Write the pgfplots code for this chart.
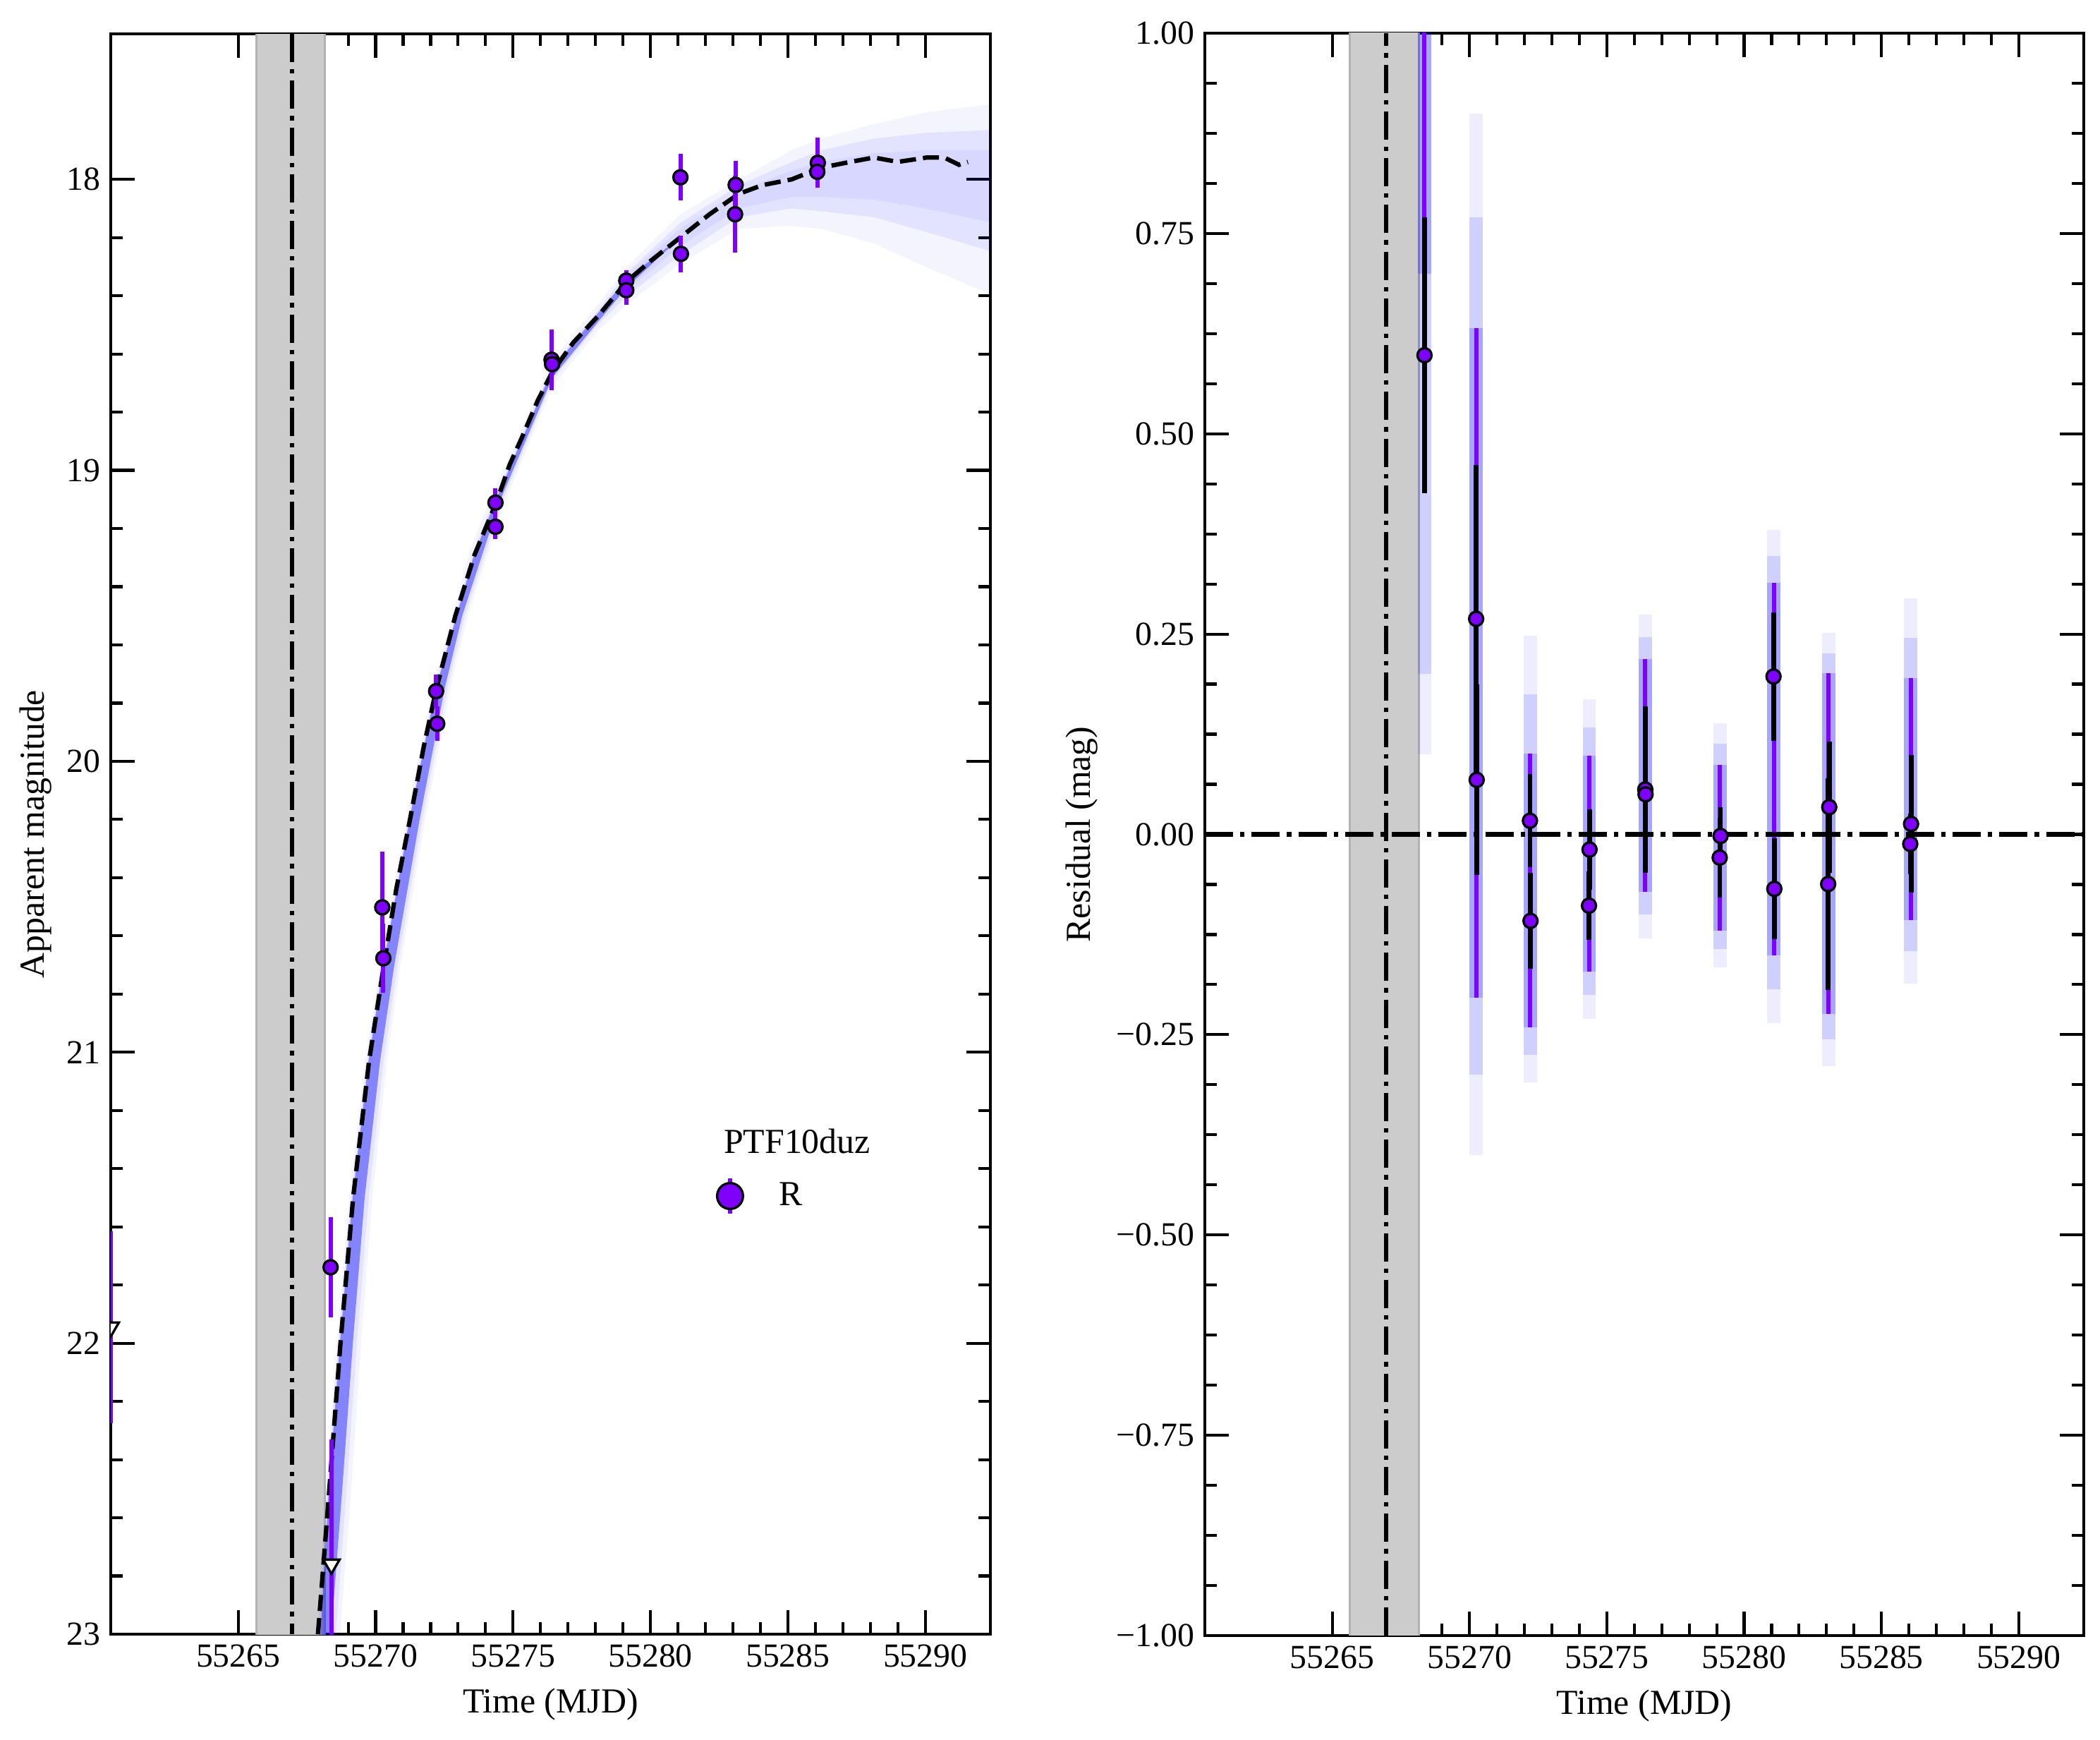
\documentclass[border=0pt]{standalone}
\usepackage{fontspec}
\setmainfont{Liberation Serif}
\usepackage{pgfplots}
\usepackage{pgfplotstable}
\pgfplotsset{compat=1.18}
\definecolor{purp}{RGB}{127,0,255}
\definecolor{shadegray}{RGB}{204,204,204}

% x = MJD - 55260
\pgfplotstableread{
x y e
8.36 21.739 0.172
10.24 20.502 0.192
10.28 20.677 0.119
12.20 19.759 0.058
12.24 19.871 0.060
14.36 19.111 0.050
14.36 19.194 0.043
16.40 18.620 0.104
16.42 18.635 0.037
19.12 18.348 0.036
19.12 18.381 0.050
21.09 17.993 0.080
21.11 18.256 0.063
23.10 18.019 0.082
23.08 18.120 0.132
26.09 17.943 0.086
26.07 17.974 0.038
}\leftdata

\pgfplotstableread{
x y e
0.36 21.945 0.33
8.39 22.760 0.43
}\limits

\pgfplotstableread{
x y e
8.36 0.598 0.172
10.24 0.269 0.192
10.26 0.068 0.119
12.20 0.017 0.058
12.22 -0.108 0.060
14.37 -0.019 0.050
14.35 -0.089 0.043
16.40 0.056 0.104
16.41 0.050 0.037
19.14 -0.002 0.036
19.11 -0.029 0.050
21.07 0.197 0.080
21.10 -0.068 0.063
23.10 0.034 0.082
23.06 -0.062 0.132
26.08 0.013 0.086
26.05 -0.012 0.038
}\rightdata

\pgfplotstableread{
x lo d
8.36 0.10 1.10
10.24 -0.40 1.30
12.21 -0.31 0.558
14.36 -0.23 0.399
16.40 -0.13 0.404
19.12 -0.166 0.305
21.08 -0.236 0.616
23.08 -0.289 0.540
26.07 -0.186 0.481
}\fuzz

\pgfplotstableread{
x lo d
8.36 0.20 1.00
10.24 -0.30 1.07
12.21 -0.275 0.45
14.36 -0.20 0.333
16.40 -0.10 0.346
19.12 -0.143 0.256
21.08 -0.193 0.54
23.08 -0.256 0.482
26.07 -0.146 0.391
}\fuzzmid

\pgfplotstableread{
x lo d
8.36 0.70 0.50
10.24 -0.204 0.836
12.21 -0.241 0.342
14.36 -0.171 0.269
16.40 -0.072 0.291
19.12 -0.12 0.207
21.08 -0.151 0.465
23.08 -0.224 0.425
26.07 -0.107 0.302
}\purpbars

\begin{document}
\begin{tikzpicture}
\path[use as bounding box] (0,0) rectangle (714.48bp,591.6bp);
\pgfplotsset{
  myaxis/.style={
    scale only axis, anchor=south west,
    xmin=0.36, xmax=32.37,
    xtick={5,10,15,20,25,30},
    xticklabels={55265,55270,55275,55280,55285,55290},
    minor x tick num=4,
    tick align=inside,
    major tick length=8.2bp, minor tick length=4.1bp,
    tick style={black, line width=1.0bp},
    axis line style={line width=1.1bp},
    tick label style={font=\fontsize{11.5}{13}\selectfont},
    label style={font=\fontsize{12}{14}\selectfont},
    xlabel={Time (MJD)},
    x label style={at={(axis description cs:0.5,-0.0437)}, anchor=center},
  },
  dashdot/.style={black, line width=1.5bp, dash pattern=on 9.6bp off 2.4bp on 1.5bp off 2.4bp},
  barsonly/.style={forget plot, only marks, mark=*, mark size=0pt, mark options={draw=none, fill=none}},
}

% ---------------- left panel ----------------
\begin{axis}[myaxis, at={(37.68bp,35.76bp)}, width=299.28bp, height=544.32bp,
  y dir=reverse, ymin=17.5, ymax=23,
  ytick={18,19,20,21,22,23}, yticklabels={18,19,20,21,22,23},
  minor y tick num=4,
  ylabel={Apparent magnitude},
  y label style={at={(axis description cs:-0.0852,0.5)}, anchor=center},
  clip marker paths=true,
  legend style={draw=none, fill=none, at={(axis description cs:0.688,0.2738)}, anchor=west,
    inner sep=0pt, outer sep=0pt, font=\fontsize{12}{14}\selectfont, nodes={inner sep=0pt}},
]
\addplot[forget plot, fill=shadegray, draw=black!30, line width=0.7bp]
  coordinates {(5.65,17.4) (8.15,17.4) (8.15,23.1) (5.65,23.1)} -- cycle;
\addplot[forget plot, dashdot] coordinates {(6.96,17.5) (6.96,23)};

% posterior band (outer)
\addplot[forget plot, fill=blue, fill opacity=0.045, draw=none] coordinates {
(7.75,23.2)(8.15,22.52)(8.57,22.0)(9.03,21.5)(9.61,21.03)(10.15,20.70)(11.10,20.20)(12.06,19.75)(13.45,19.27)(14.30,19.07)(16.44,18.62)(18.09,18.43)(19.15,18.30)(21.08,18.12)(23.21,18.00)(25.14,17.90)(26.21,17.86)(28.13,17.81)(30.0,17.77)(32.5,17.74)
(32.5,18.40)(30.0,18.30)(28.13,18.22)(26.21,18.17)(25.14,18.16)(23.21,18.17)(21.08,18.29)(19.15,18.43)(18.09,18.52)(16.44,18.71)(14.70,19.11)(13.35,19.50)(12.71,19.75)(11.80,20.20)(10.90,20.70)(10.41,21.03)(9.88,21.50)(9.47,22.0)(9.10,22.52)(8.70,23.0)(8.55,23.2)} -- cycle;
% middle
\addplot[forget plot, fill=blue, fill opacity=0.07, draw=none] coordinates {
(7.82,23.2)(8.22,22.52)(8.65,22.0)(9.11,21.5)(9.70,21.03)(10.24,20.70)(11.19,20.20)(12.15,19.75)(13.55,19.28)(14.35,19.09)(16.44,18.64)(18.09,18.45)(19.15,18.32)(21.08,18.15)(23.21,18.02)(25.14,17.94)(26.21,17.90)(28.13,17.86)(30.0,17.84)(32.5,17.83)
(32.5,18.25)(30.0,18.18)(28.13,18.13)(26.21,18.11)(25.14,18.10)(23.21,18.13)(21.08,18.26)(19.15,18.40)(18.09,18.50)(16.44,18.69)(14.60,19.11)(13.25,19.50)(12.61,19.75)(11.70,20.20)(10.80,20.70)(10.29,21.03)(9.75,21.50)(9.32,22.0)(8.93,22.52)(8.55,23.0)(8.40,23.2)} -- cycle;
% inner late-time
\addplot[forget plot, fill=blue, fill opacity=0.05, draw=none] coordinates {
(19.15,18.33)(21.08,18.17)(23.21,18.04)(25.14,17.97)(26.21,17.94)(28.13,17.91)(30.0,17.90)(32.5,17.90)
(32.5,18.15)(30.0,18.10)(28.13,18.07)(26.21,18.06)(25.14,18.06)(23.21,18.10)(21.08,18.23)(19.15,18.38)} -- cycle;
% core (rise)
\addplot[forget plot, fill=blue, fill opacity=0.42, draw=none] coordinates {
(7.88,23.2)(8.28,22.52)(8.70,22.0)(9.16,21.5)(9.74,21.03)(10.28,20.70)(11.23,20.20)(12.19,19.75)(13.58,19.29)(14.38,19.10)(16.44,18.65)(18.09,18.46)(19.15,18.34)(21.08,18.20)
(19.15,18.37)(18.09,18.49)(16.44,18.68)(14.50,19.11)(13.15,19.50)(12.51,19.75)(11.60,20.20)(10.68,20.70)(10.16,21.03)(9.60,21.50)(9.17,22.0)(8.77,22.52)(8.38,23.0)(8.22,23.2)} -- cycle;

% model curve
\addplot[forget plot, black, line width=1.5bp, dash pattern=on 5.5bp off 2.4bp] coordinates {
(7.90,23.00)(8.30,22.52)(8.72,22.00)(9.18,21.50)(9.76,21.03)(10.30,20.70)(10.75,20.44)(11.25,20.20)(11.75,19.95)(12.21,19.75)(12.90,19.50)(13.60,19.29)(14.39,19.11)(14.88,18.98)(15.31,18.89)(15.90,18.76)(16.44,18.66)(17.20,18.56)(18.09,18.47)(19.15,18.35)(20.01,18.28)(21.08,18.20)(22.15,18.12)(23.21,18.05)(24.07,18.02)(25.14,18.00)(26.21,17.96)(27.27,17.94)(28.13,17.925)(29.00,17.94)(30.05,17.925)(30.69,17.925)(31.23,17.95)(31.55,17.94)};

% upper limits
\addplot[forget plot, only marks, mark=triangle*, mark size=3.2bp,
  mark options={rotate=180, fill=white, draw=black, line width=0.8bp},
  error bars/.cd, y dir=both, y explicit, error mark=none,
  error bar style={line width=1.44bp, purp}]
  table[x=x, y=y, y error=e]{\limits};

% detections
\addplot[forget plot, only marks, mark=*, mark size=2.4bp,
  mark options={fill=purp, draw=black, line width=0.8bp},
  error bars/.cd, y dir=both, y explicit, error mark=none,
  error bar style={line width=1.44bp, purp}]
  table[x=x, y=y, y error=e]{\leftdata};

\addlegendimage{legend image code/.code={
  \draw[purp, line width=1.44bp] (0bp,-6bp) -- (0bp,6bp);
  \draw[fill=purp, draw=black, line width=0.8bp] (0bp,0bp) circle (4.4bp);
}}
\addlegendentry{\hspace*{11.8bp}R}
\node[font=\fontsize{12}{14}\selectfont] at (axis description cs:0.7803,0.308) {PTF10duz};
\end{axis}

% ---------------- right panel ----------------
\begin{axis}[myaxis, at={(409.92bp,35.28bp)}, width=299.04bp, height=545.04bp,
  ymin=-1, ymax=1,
  ytick={-1,-0.75,-0.5,-0.25,0,0.25,0.5,0.75,1},
  yticklabels={−1.00,−0.75,−0.50,−0.25,0.00,0.25,0.50,0.75,1.00},
  minor y tick num=3,
  ylabel={Residual (mag)},
  y label style={at={(axis description cs:-0.1397,0.5)}, anchor=center},
]
\addplot[forget plot, fill=shadegray, draw=black!30, line width=0.7bp]
  coordinates {(5.65,-1.1) (8.15,-1.1) (8.15,1.1) (5.65,1.1)} -- cycle;
\addplot[forget plot, dashdot] coordinates {(6.96,-1) (6.96,1)};

% posterior residual spread
\addplot[barsonly,
  error bars/.cd, y dir=plus, y explicit, error mark=none,
  error bar style={line width=4.5bp, blue, opacity=0.07}]
  table[x=x, y=lo, y error=d]{\fuzz};
\addplot[barsonly,
  error bars/.cd, y dir=plus, y explicit, error mark=none,
  error bar style={line width=4.5bp, blue, opacity=0.12}]
  table[x=x, y=lo, y error=d]{\fuzzmid};
\addplot[barsonly,
  error bars/.cd, y dir=plus, y explicit, error mark=none,
  error bar style={line width=4.5bp, blue, opacity=0.2}]
  table[x=x, y=lo, y error=d]{\purpbars};
\addplot[barsonly,
  error bars/.cd, y dir=plus, y explicit, error mark=none,
  error bar style={line width=1.44bp, purp}]
  table[x=x, y=lo, y error=d]{\purpbars};

\addplot[forget plot, dashdot] coordinates {(0.36,0) (32.37,0)};

\addplot[barsonly,
  error bars/.cd, y dir=both, y explicit, error mark=none,
  error bar style={line width=1.6bp, black}]
  table[x=x, y=y, y error=e]{\rightdata};
\addplot[forget plot, only marks, mark=*, mark size=2.4bp,
  mark options={fill=purp, draw=black, line width=0.8bp}]
  table[x=x, y=y]{\rightdata};
\end{axis}
\end{tikzpicture}
\end{document}
